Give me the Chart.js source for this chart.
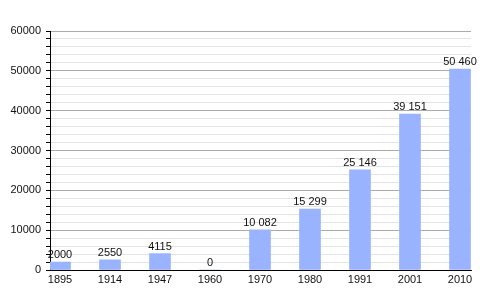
<!DOCTYPE html>
<html>
<head>
<meta charset="utf-8">
<script src="https://cdn.jsdelivr.net/npm/chart.js@4/dist/chart.umd.min.js"></script>
<style>
html,body{margin:0;padding:0;background:#fff;}
canvas{display:block;}
</style>
</head>
<body>
<canvas id="c" width="500" height="300"></canvas>
<script>
const categories = ["1895","1914","1947","1960","1970","1980","1991","2001","2010"];
const population = [2000, 2550, 4115, 0, 10082, 15299, 25146, 39151, 50460];
const yTickLabels = ["0","10000","20000","30000","40000","50000","60000"];

const FONT = '"Liberation Sans", Arial, sans-serif';

function fmt(v){
  if (v < 10000) return String(v);
  return String(v).replace(/\B(?=(\d{3})+(?!\d))/g, ' ');
}

const dataLabels = {
  id: 'dataLabels',
  afterDatasetsDraw(chart){
    const ctx = chart.ctx;
    const meta = chart.getDatasetMeta(0);
    ctx.save();
    ctx.font = '11px ' + FONT;
    ctx.fillStyle = '#111';
    ctx.textAlign = 'center';
    ctx.textBaseline = 'alphabetic';
    meta.data.forEach((bar, i) => {
      ctx.fillText(fmt(population[i]), bar.x, bar.y - 4);
    });
    ctx.restore();
  }
};

new Chart(document.getElementById('c'), {
  type: 'bar',
  data: {
    datasets: [{
      data: categories.map((c, i) => ({x: i, y: population[i]})),
      backgroundColor: '#99b3ff',
      borderWidth: 0,
      barThickness: 21
    }]
  },
  options: {
    responsive: false,
    animation: false,
    layout: {padding: {top: 31, right: 29, left: 0, bottom: 0}},
    plugins: {legend: {display: false}, tooltip: {enabled: false}},
    scales: {
      x: {
        type: 'linear',
        offset: false,
        min: -0.2,
        max: 8.22,
        grid: {display: false, drawTicks: false},
        border: {display: true, color: '#000', width: 1},
        ticks: {
          stepSize: 1,
          includeBounds: false,
          autoSkip: false,
          maxRotation: 0,
          padding: 3,
          color: '#111',
          font: {family: FONT, size: 11},
          callback: v => (Number.isInteger(v) && categories[v] !== undefined) ? categories[v] : ''
        },
        afterFit(scale){ scale.height = 30; }
      },
      y: {
        min: 0,
        max: 60000,
        grid: {
          color: ctx => (ctx.tick && ctx.tick.value % 10000 === 0) ? '#ababab' : '#e3e3e3',
          tickColor: '#000',
          tickLength: 4,
          lineWidth: 1
        },
        border: {display: true, color: '#000', width: 1},
        ticks: {
          stepSize: 2000,
          autoSkip: false,
          padding: 5,
          color: '#111',
          font: {family: FONT, size: 11},
          callback: v => yTickLabels.includes(String(v)) ? String(v) : ''
        },
        afterFit(scale){ scale.width = 50; }
      }
    }
  },
  plugins: [dataLabels]
});
</script>
</body>
</html>
